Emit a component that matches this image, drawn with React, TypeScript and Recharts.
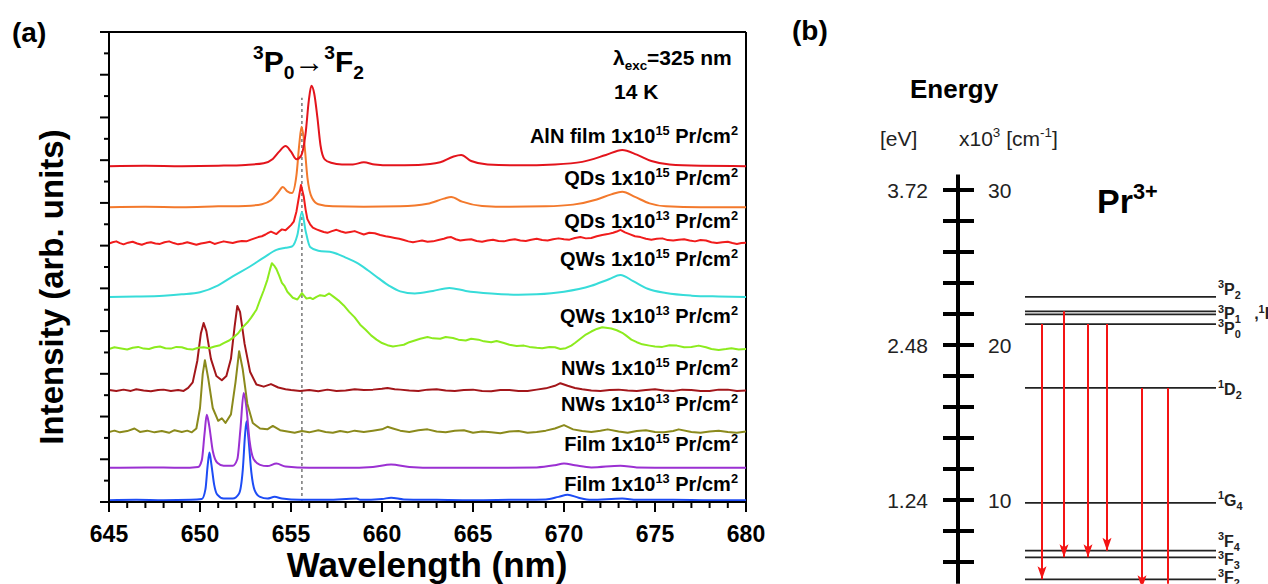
import { LineChart, Line, XAxis, YAxis, ReferenceLine } from "recharts";

const FONT = '"Liberation Sans", Arial, Helvetica, sans-serif';

// ---- panel (a): offset PL spectra, [wavelength nm, intensity arb. units] ----
const filmLow: [number, number][] = [
  [645, 0.04], [646.5, 0.05], [648, 0.04], [649.5, 0.05], [650.1, 0.07], [650.3, 0.3], [650.42, 0.85],
  [650.52, 1.16], [650.62, 0.9], [650.78, 0.4], [650.95, 0.17], [651.3, 0.08], [651.8, 0.08], [652.15, 0.2],
  [652.35, 0.75], [652.48, 1.6], [652.56, 1.89], [652.66, 1.5], [652.82, 0.7], [653.0, 0.28], [653.3, 0.12],
  [653.7, 0.08], [654.1, 0.12], [654.5, 0.08], [655.5, 0.05], [657, 0.05], [658.6, 0.08], [658.8, 0.05],
  [660, 0.07], [660.5, 0.1], [661.2, 0.06], [663, 0.05], [665, 0.04], [667, 0.05], [669, 0.06],
  [669.7, 0.12], [670.2, 0.17], [670.8, 0.1], [671.5, 0.05], [673.2, 0.08], [674, 0.05], [676, 0.05],
  [678, 0.04], [680, 0.04],
];
const filmHigh: [number, number][] = [
  [645, 0.8], [647, 0.81], [649, 0.8], [649.9, 0.82], [650.1, 0.98], [650.25, 1.6], [650.37, 2.04],
  [650.5, 1.8], [650.7, 1.2], [650.95, 0.92], [651.3, 0.85], [651.8, 0.85], [652.05, 1.0], [652.22, 1.7],
  [652.4, 2.55], [652.54, 2.25], [652.72, 1.45], [652.95, 1.0], [653.3, 0.87], [653.7, 0.84], [654.2, 0.9],
  [654.7, 0.83], [656, 0.8], [658, 0.8], [659.5, 0.82], [660.5, 0.88], [661.5, 0.82], [663, 0.8],
  [666, 0.8], [668.5, 0.81], [669.5, 0.86], [670, 0.9], [670.6, 0.86], [671.5, 0.81], [673.1, 0.85],
  [674, 0.81], [676, 0.8], [678, 0.8], [680, 0.8],
];
const nwLow: [number, number][] = [
  [645, 1.64], [645.3, 1.67], [645.6, 1.63], [646, 1.66], [646.4, 1.72], [646.7, 1.64], [647.1, 1.67],
  [647.5, 1.63], [647.9, 1.66], [648.3, 1.62], [648.6, 1.68], [649, 1.64], [649.3, 1.67], [649.55, 1.63],
  [649.8, 1.72], [650.0, 2.2], [650.15, 3.0], [650.27, 3.32], [650.45, 2.9], [650.7, 2.2], [651.0, 1.9],
  [651.2, 1.96], [651.4, 1.85], [651.7, 2.05], [651.95, 2.8], [652.15, 3.53], [652.35, 3.1], [652.6, 2.3],
  [652.9, 1.85], [653.3, 1.72], [653.7, 1.7], [654.0, 1.78], [654.4, 1.68], [654.8, 1.65], [655.2, 1.62],
  [655.6, 1.66], [656, 1.63], [656.5, 1.68], [656.9, 1.64], [657.3, 1.62], [657.7, 1.66], [658.1, 1.63],
  [658.5, 1.67], [659, 1.64], [659.5, 1.67], [660, 1.7], [660.3, 1.76], [660.6, 1.72], [661, 1.67],
  [661.5, 1.64], [662, 1.68], [662.5, 1.7], [663, 1.65], [663.5, 1.63], [664, 1.67], [664.5, 1.68],
  [665, 1.62], [665.5, 1.65], [666, 1.63], [666.5, 1.61], [667, 1.65], [667.5, 1.66], [668, 1.62],
  [668.5, 1.64], [669, 1.67], [669.5, 1.72], [670, 1.8], [670.5, 1.7], [671, 1.66], [671.5, 1.64],
  [672, 1.67], [672.4, 1.7], [673, 1.65], [673.5, 1.62], [674, 1.66], [674.5, 1.68], [675, 1.64],
  [675.5, 1.63], [676, 1.66], [676.3, 1.7], [677, 1.64], [677.5, 1.62], [678, 1.65], [678.5, 1.67],
  [679, 1.64], [679.5, 1.62], [680, 1.65],
];
const nwHigh: [number, number][] = [
  [645, 2.62], [645.4, 2.6], [645.8, 2.63], [646.2, 2.6], [646.5, 2.64], [646.9, 2.61], [647.3, 2.59],
  [647.7, 2.62], [648, 2.63], [648.4, 2.6], [648.8, 2.62], [649.1, 2.6], [649.35, 2.67], [649.6, 2.8],
  [649.85, 3.3], [650.05, 3.95], [650.2, 4.19], [650.35, 4.0], [650.6, 3.35], [650.9, 2.95], [651.2, 2.85],
  [651.45, 2.95], [651.7, 3.35], [651.9, 4.1], [652.05, 4.59], [652.2, 4.45], [652.45, 3.7], [652.75, 3.05],
  [653.1, 2.75], [653.5, 2.7], [653.9, 2.76], [654.3, 2.68], [654.7, 2.64], [655, 2.62], [655.5, 2.6],
  [656, 2.62], [656.5, 2.59], [657, 2.63], [657.5, 2.6], [658, 2.61], [658.5, 2.64], [659, 2.62],
  [659.5, 2.63], [660, 2.65], [660.3, 2.67], [660.7, 2.64], [661, 2.63], [661.5, 2.61], [662, 2.6],
  [662.5, 2.63], [663, 2.64], [663.5, 2.61], [664, 2.6], [664.5, 2.62], [665, 2.63], [665.5, 2.6],
  [666, 2.59], [666.5, 2.62], [667, 2.62], [667.5, 2.6], [668, 2.6], [668.5, 2.63], [669, 2.66],
  [669.5, 2.72], [669.8, 2.78], [670.2, 2.72], [670.6, 2.67], [671, 2.64], [671.5, 2.61], [672, 2.6],
  [672.5, 2.62], [673, 2.63], [673.5, 2.61], [674, 2.6], [674.5, 2.62], [675, 2.64], [675.5, 2.61],
  [676, 2.6], [676.5, 2.63], [677, 2.62], [677.5, 2.6], [678, 2.6], [678.5, 2.63], [679, 2.63],
  [679.5, 2.6], [680, 2.61],
];
const qwLow: [number, number][] = [
  [645, 3.58], [645.3, 3.62], [645.6, 3.6], [646, 3.57], [646.3, 3.61], [646.6, 3.63], [646.9, 3.59],
  [647.2, 3.58], [647.5, 3.62], [647.8, 3.64], [648.1, 3.6], [648.4, 3.59], [648.7, 3.63], [649, 3.62],
  [649.3, 3.58], [649.6, 3.57], [649.9, 3.61], [650.2, 3.62], [650.5, 3.6], [650.8, 3.64], [651.1, 3.67],
  [651.3, 3.72], [651.6, 3.78], [651.8, 3.84], [652.1, 3.95], [652.3, 4.07], [652.6, 4.2], [652.8, 4.31],
  [653.1, 4.5], [653.3, 4.73], [653.5, 4.95], [653.7, 5.2], [653.85, 5.45], [653.95, 5.59], [654.1, 5.52],
  [654.2, 5.45], [654.35, 5.3], [654.5, 5.13], [654.65, 5.05], [654.8, 4.92], [654.95, 4.85], [655.1, 4.78],
  [655.35, 4.74], [655.6, 4.89], [655.85, 4.76], [656.05, 4.78], [656.2, 4.75], [656.4, 4.8], [656.6, 4.84],
  [656.85, 4.82], [657.1, 4.88], [657.35, 4.8], [657.6, 4.72], [657.9, 4.6], [658.2, 4.45], [658.5, 4.32],
  [658.8, 4.15], [659.1, 4.03], [659.4, 3.9], [659.7, 3.8], [660, 3.72], [660.3, 3.67], [660.6, 3.64],
  [660.9, 3.66], [661.2, 3.68], [661.5, 3.74], [661.8, 3.78], [662.1, 3.82], [662.5, 3.86], [662.8, 3.83],
  [663.2, 3.82], [663.5, 3.86], [663.9, 3.84], [664.2, 3.8], [664.6, 3.78], [664.9, 3.82], [665.3, 3.8],
  [665.6, 3.76], [666, 3.74], [666.3, 3.77], [666.7, 3.72], [667, 3.68], [667.4, 3.65], [667.8, 3.66],
  [668.1, 3.63], [668.5, 3.61], [668.8, 3.6], [669.2, 3.63], [669.5, 3.62], [669.8, 3.58], [670.1, 3.6],
  [670.4, 3.66], [670.6, 3.72], [670.9, 3.82], [671.2, 3.92], [671.5, 3.99], [671.8, 4.05], [672.1, 4.09],
  [672.3, 4.08], [672.6, 4.06], [672.9, 4.02], [673.2, 3.96], [673.4, 3.9], [673.7, 3.8], [674, 3.74],
  [674.3, 3.69], [674.7, 3.66], [675, 3.64], [675.4, 3.63], [675.8, 3.67], [676.2, 3.66], [676.6, 3.62],
  [677, 3.63], [677.4, 3.66], [677.8, 3.62], [678.1, 3.58], [678.5, 3.56], [678.9, 3.58], [679.2, 3.6],
  [679.6, 3.57], [680, 3.58],
];
const qwHigh: [number, number][] = [
  [645, 4.8], [646.5, 4.81], [648, 4.83], [649, 4.86], [650, 4.91], [651, 5.07], [651.8, 5.28], [652.7, 5.5],
  [653.5, 5.72], [654.2, 5.9], [654.7, 5.95], [655.05, 5.98], [655.35, 6.25], [655.6, 6.79], [655.8, 6.35],
  [656.05, 5.97], [656.5, 5.88], [657.3, 5.84], [658, 5.72], [658.6, 5.6], [659.2, 5.43], [659.8, 5.24],
  [660.4, 5.06], [661, 4.93], [661.8, 4.88], [662.8, 4.94], [663.7, 5.01], [664.6, 4.94], [666, 4.88],
  [667.5, 4.85], [668.5, 4.86], [670, 4.92], [671.5, 5.06], [672.5, 5.22], [673.1, 5.31], [673.8, 5.17],
  [674.6, 4.99], [675.6, 4.89], [677, 4.83], [678.5, 4.81], [680, 4.8],
];
const qdLow: [number, number][] = [
  [645, 6.05], [645.2, 6.08], [645.4, 6.1], [645.6, 6.06], [645.8, 6.03], [646.05, 6.07], [646.3, 6.09],
  [646.55, 6.05], [646.8, 6.02], [647.05, 6.06], [647.3, 6.08], [647.55, 6.05], [647.8, 6.04], [648.05, 6.08],
  [648.3, 6.1], [648.55, 6.06], [648.8, 6.03], [649.05, 6.05], [649.3, 6.08], [649.55, 6.05], [649.8, 6.02],
  [650.05, 6.05], [650.3, 6.07], [650.55, 6.09], [650.8, 6.04], [651.05, 6.07], [651.3, 6.1], [651.55, 6.08],
  [651.8, 6.06], [652.05, 6.09], [652.3, 6.11], [652.55, 6.1], [652.8, 6.14], [653.0, 6.17], [653.2, 6.2],
  [653.4, 6.22], [653.6, 6.26], [653.75, 6.3], [653.9, 6.33], [654.05, 6.3], [654.2, 6.27], [654.35, 6.33],
  [654.5, 6.38], [654.7, 6.36], [654.85, 6.42], [655.0, 6.48], [655.15, 6.56], [655.3, 6.8], [655.4, 7.05],
  [655.55, 7.42], [655.7, 7.15], [655.8, 6.85], [655.9, 6.62], [656.05, 6.5], [656.2, 6.42], [656.4, 6.38],
  [656.6, 6.35], [656.8, 6.32], [657, 6.3], [657.25, 6.34], [657.5, 6.37], [657.75, 6.33], [658, 6.3],
  [658.25, 6.32], [658.5, 6.34], [658.75, 6.3], [659, 6.26], [659.3, 6.3], [659.6, 6.29], [659.9, 6.25],
  [660.2, 6.22], [660.45, 6.2], [660.7, 6.18], [660.95, 6.16], [661.2, 6.13], [661.45, 6.1], [661.7, 6.08],
  [661.95, 6.1], [662.2, 6.12], [662.5, 6.09], [662.8, 6.1], [663.1, 6.13], [663.4, 6.16], [663.6, 6.19],
  [663.8, 6.2], [664.05, 6.15], [664.3, 6.12], [664.6, 6.14], [664.9, 6.15], [665.2, 6.11], [665.5, 6.09],
  [665.8, 6.12], [666.1, 6.14], [666.4, 6.11], [666.7, 6.1], [667, 6.13], [667.3, 6.15], [667.6, 6.12],
  [667.9, 6.11], [668.2, 6.14], [668.5, 6.16], [668.8, 6.13], [669.1, 6.12], [669.4, 6.15], [669.7, 6.17],
  [670, 6.15], [670.3, 6.14], [670.6, 6.18], [670.9, 6.2], [671.2, 6.17], [671.5, 6.18], [671.8, 6.22],
  [672.1, 6.25], [672.4, 6.27], [672.7, 6.3], [672.9, 6.33], [673.1, 6.37], [673.35, 6.31], [673.6, 6.27],
  [673.9, 6.22], [674.2, 6.2], [674.5, 6.16], [674.8, 6.14], [675.1, 6.16], [675.4, 6.17], [675.7, 6.13],
  [676, 6.12], [676.3, 6.14], [676.6, 6.15], [676.9, 6.12], [677.2, 6.1], [677.5, 6.13], [677.8, 6.12],
  [678.1, 6.08], [678.4, 6.06], [678.7, 6.08], [679, 6.09], [679.25, 6.06], [679.5, 6.04], [679.75, 6.06],
  [680, 6.07],
];
const qdHigh: [number, number][] = [
  [645, 6.9], [647, 6.91], [649, 6.9], [651, 6.92], [652.5, 6.93], [653.4, 6.97], [653.9, 7.06],
  [654.3, 7.25], [654.55, 7.37], [654.8, 7.27], [655.05, 7.23], [655.3, 7.65], [655.45, 8.35],
  [655.58, 8.78], [655.72, 8.45], [655.9, 7.6], [656.15, 7.12], [656.5, 6.97], [657.3, 6.92], [659, 6.91],
  [661, 6.92], [662.5, 6.98], [663.4, 7.1], [663.8, 7.14], [664.4, 7.03], [665.5, 6.93], [667, 6.91],
  [669, 6.92], [670.5, 6.96], [671.8, 7.08], [672.6, 7.2], [673.2, 7.26], [673.9, 7.14], [674.7, 6.99],
  [675.6, 6.92], [677.5, 6.9], [680, 6.9],
];
const alnFilm: [number, number][] = [
  [645, 7.86], [647, 7.87], [649, 7.86], [651, 7.87], [652.5, 7.89], [653.5, 7.93], [654.0, 8.03],
  [654.35, 8.2], [654.7, 8.33], [655.0, 8.2], [655.3, 8.02], [655.55, 8.1], [655.8, 8.62], [655.98, 9.4],
  [656.12, 9.74], [656.28, 9.55], [656.45, 9.0], [656.62, 8.35], [656.85, 8.02], [657.2, 7.94],
  [657.8, 7.9], [658.4, 7.9], [659, 7.95], [659.6, 7.9], [660.5, 7.88], [662, 7.89], [663.2, 7.95],
  [663.9, 8.08], [664.35, 8.12], [664.9, 7.98], [665.8, 7.9], [667.5, 7.88], [669.5, 7.9], [671, 7.96],
  [672.3, 8.12], [673.2, 8.24], [674, 8.13], [674.8, 7.98], [675.8, 7.9], [677.5, 7.87], [680, 7.86],
];

const seriesData = [filmLow, filmHigh, nwLow, nwHigh, qwLow, qwHigh, qdLow, qdHigh, alnFilm];
const seriesColors = ["#1d4cf5", "#9b30d2", "#8b8a1c", "#a3161a", "#8ceb1e", "#37dcd9", "#f01c1c", "#f3792c", "#e3141c"];
// noisy traces are drawn point to point, smooth ones with a monotone curve
const seriesCurve = ["monotone", "monotone", "linear", "linear", "linear", "monotone", "linear", "monotone", "monotone"] as const;
const seriesLabels = [
  "Film 1x10^{13} Pr/cm^{2}",
  "Film 1x10^{15} Pr/cm^{2}",
  "NWs 1x10^{13} Pr/cm^{2}",
  "NWs 1x10^{15} Pr/cm^{2}",
  "QWs 1x10^{13} Pr/cm^{2}",
  "QWs 1x10^{15} Pr/cm^{2}",
  "QDs 1x10^{13} Pr/cm^{2}",
  "QDs 1x10^{15} Pr/cm^{2}",
  "AlN film 1x10^{15} Pr/cm^{2}",
];
const labelBaselines = [491, 451, 411, 375, 323, 266, 228, 185, 143];

const xTicks = [645, 646, 647, 648, 649, 650, 651, 652, 653, 654, 655, 656, 657, 658, 659, 660, 661, 662,
  663, 664, 665, 666, 667, 668, 669, 670, 671, 672, 673, 674, 675, 676, 677, 678, 679, 680];
const yTicks = [0, 0.5, 1, 1.5, 2, 2.5, 3, 3.5, 4, 4.5, 5, 5.5, 6, 6.5, 7, 7.5, 8, 8.5, 9, 9.5, 10, 10.5, 11];
const transitionLine = 655.6;

// ---- panel (b): Pr3+ levels, energy in 10^3 cm^-1 ----
const levelTerms = ["^{3}P_{2}", "^{3}P_{1}\u00a0\u00a0\u00a0,^{1}I_{6}", "", "^{3}P_{0}", "^{1}D_{2}", "^{1}G_{4}", "^{3}F_{4}", "^{3}F_{3}", "^{3}F_{2}"];
const levelEnergies = [23.1, 22.17, 21.98, 21.35, 17.23, 9.82, 6.73, 6.3, 4.88];
const levelLabelDy = [-2, 8, 0, 10, 7, 3, -4, 8, 4];
const transitionFrom = [21.35, 22.17, 21.35, 21.35, 17.23, 17.23];
const transitionTo = [4.88, 6.3, 6.3, 6.73, 4.3, 2.2];
const energyTicks = [6, 8, 10, 12, 14, 16, 18, 20, 22, 24, 26, 28, 30];
const eVLabels: Record<number, string> = { 30: "3.72", 20: "2.48", 10: "1.24" };

const LEVEL_X = [67, 258];
const ARROW_X = [84, 106, 130, 149, 184, 210];

type Part = { t: string; s?: "sup" | "sub" };
function parse(s: string): Part[] {
  const out: Part[] = [];
  const re = /([\^_])\{([^}]*)\}/g;
  let last = 0;
  let m: RegExpExecArray | null;
  while ((m = re.exec(s))) {
    if (m.index > last) out.push({ t: s.slice(last, m.index) });
    out.push({ t: m[2], s: m[1] === "^" ? "sup" : "sub" });
    last = re.lastIndex;
  }
  if (last < s.length) out.push({ t: s.slice(last) });
  return out;
}
function rich(s: string, fs: number, small = 0.64) {
  let cur = 0;
  return parse(s).map((p, i) => {
    const target = p.s === "sup" ? -0.42 * fs : p.s === "sub" ? 0.24 * fs : 0;
    const dy = target - cur;
    cur = target;
    return (
      <tspan key={i} dy={dy} fontSize={p.s ? fs * small : fs}>
        {p.t}
      </tspan>
    );
  });
}

const renderXTick = (p: any) => {
  const v = p.payload.value;
  const major = v % 5 === 0;
  return (
    <g key={`xt-${v}`}>
      <line x1={p.x} x2={p.x} y1={p.y} y2={p.y + (major ? 10 : 6)} stroke="#000" strokeWidth={2} />
      {major && (
        <text x={p.x} y={p.y + 40} textAnchor="middle" fontSize={23} fontWeight={700} fontFamily={FONT} fill="#000">
          {v}
        </text>
      )}
    </g>
  );
};

const renderYTick = (p: any) => {
  const v = p.payload.value;
  const major = Number.isInteger(v);
  return <line key={`yt-${v}`} x1={p.x - (major ? 9 : 5)} x2={p.x} y1={p.y} y2={p.y} stroke="#000" strokeWidth={2} />;
};

const renderEnergyTick = (p: any) => {
  const v = p.payload.value;
  const ev = eVLabels[v];
  return (
    <g key={`et-${v}`}>
      <line x1={p.x - 15} x2={p.x + 16} y1={p.y} y2={p.y} stroke="#000" strokeWidth={4} />
      {ev && (
        <text x={p.x - 30} y={p.y + 8} textAnchor="end" fontSize={21} fontFamily={FONT} fill="#222">
          {ev}
        </text>
      )}
      {ev && (
        <text x={p.x + 30} y={p.y + 8} textAnchor="start" fontSize={21} fontFamily={FONT} fill="#222">
          {v}
        </text>
      )}
    </g>
  );
};

function SpectraPanel() {
  return (
    <LineChart width={790} height={584} margin={{ top: 32, right: 44, bottom: 0, left: 0 }}>
      <XAxis
        type="number"
        dataKey="x"
        domain={[645, 680]}
        ticks={xTicks}
        interval={0}
        tick={renderXTick}
        tickLine={false}
        tickSize={0}
        tickMargin={0}
        height={82}
        axisLine={{ stroke: "#000", strokeWidth: 2 }}
        allowDataOverflow
      />
      <YAxis
        type="number"
        domain={[0, 11]}
        ticks={yTicks}
        interval={0}
        tick={renderYTick}
        tickLine={false}
        tickSize={0}
        tickMargin={0}
        width={109}
        axisLine={{ stroke: "#000", strokeWidth: 2 }}
        allowDataOverflow
      />
      <ReferenceLine y={11} stroke="#000" strokeWidth={2} />
      <ReferenceLine x={680} stroke="#000" strokeWidth={2} />
      <ReferenceLine
        segment={[{ x: transitionLine, y: 0 }, { x: transitionLine, y: 9.46 }]}
        stroke="#555"
        strokeWidth={1.2}
        strokeDasharray="3 3"
      />
      {seriesData.map((pts, i) => (
        <Line
          key={seriesLabels[i]}
          data={pts.map(([x, y]) => ({ x, y }))}
          dataKey="y"
          type={seriesCurve[i]}
          stroke={seriesColors[i]}
          strokeWidth={2}
          strokeLinejoin="round"
          dot={false}
          isAnimationActive={false}
        />
      ))}
    </LineChart>
  );
}

function LevelsPanel() {
  return (
    <LineChart width={478} height={584} margin={{ top: 174.5, right: 0, bottom: 0.3, left: 0 }}>
      <XAxis type="number" dataKey="x" domain={[0, 310]} hide allowDataOverflow />
      <YAxis
        type="number"
        domain={[4.6, 31]}
        ticks={energyTicks}
        interval={0}
        tick={renderEnergyTick}
        tickLine={false}
        tickSize={0}
        tickMargin={0}
        width={168}
        axisLine={{ stroke: "#000", strokeWidth: 4 }}
        allowDataOverflow
      />
      {levelEnergies.map((e, i) => (
        <Line
          key={`lvl-${i}`}
          data={[{ x: LEVEL_X[0], e }, { x: LEVEL_X[1], e }]}
          dataKey="e"
          type="linear"
          stroke="#222"
          strokeWidth={1.8}
          isAnimationActive={false}
          dot={(p: any) =>
            p.index === 1 && levelTerms[i] ? (
              <text key={`ll-${i}`} x={p.cx + 2} y={p.cy + levelLabelDy[i]} fontSize={16} fontWeight={700} fontFamily={FONT} fill="#222">
                {rich(levelTerms[i], 16, 0.68)}
              </text>
            ) : (
              <g key={`ld-${i}-${p.index}`} />
            )
          }
        />
      ))}
      {transitionFrom.map((from, i) => (
        <Line
          key={`tr-${i}`}
          data={[{ x: ARROW_X[i], e: from }, { x: ARROW_X[i], e: transitionTo[i] }]}
          dataKey="e"
          type="linear"
          stroke="#f41414"
          strokeWidth={2}
          isAnimationActive={false}
          dot={(p: any) =>
            p.index === 1 ? (
              <polygon
                key={`ah-${i}`}
                points={`${p.cx},${p.cy} ${p.cx - 4.5},${p.cy - 13} ${p.cx},${p.cy - 10} ${p.cx + 4.5},${p.cy - 13}`}
                fill="#f41414"
              />
            ) : (
              <g key={`ad-${i}`} />
            )
          }
        />
      ))}
    </LineChart>
  );
}

export default function App() {
  const bold = { fontFamily: FONT, fontWeight: 700, fill: "#000" } as const;
  return (
    <div style={{ position: "absolute", left: 0, top: 0, width: 1268, height: 584, background: "#fff", overflow: "hidden" }}>
      <div style={{ position: "absolute", left: 0, top: 0 }}>
        <SpectraPanel />
      </div>
      <div style={{ position: "absolute", left: 790, top: 0 }}>
        <LevelsPanel />
      </div>
      <svg width={1268} height={584} style={{ position: "absolute", left: 0, top: 0, pointerEvents: "none" }}>
        <text x={12} y={42} fontSize={28} {...bold}>(a)</text>
        <text x={792} y={40} fontSize={28} {...bold}>(b)</text>
        <text x={253} y={72} fontSize={30} {...bold}>{rich("^{3}P_{0}\u2192^{3}F_{2}", 30)}</text>
        <text x={613} y={65} fontSize={21} {...bold}>{rich("\u03bb_{exc}=325 nm", 21)}</text>
        <text x={614} y={99} fontSize={21} {...bold}>14 K</text>
        {seriesLabels.map((s, i) => (
          <text key={s} x={738} y={labelBaselines[i]} textAnchor="end" fontSize={20} {...bold}>
            {rich(s, 20)}
          </text>
        ))}
        <text x={427} y={577} textAnchor="middle" fontSize={35} {...bold}>Wavelength (nm)</text>
        <text transform="translate(63,287) rotate(-90)" textAnchor="middle" fontSize={33} {...bold}>
          Intensity (arb. units)
        </text>
        <text x={910} y={98} fontSize={26} {...bold}>Energy</text>
        <text x={880} y={146} fontSize={21} fontFamily={FONT} fill="#222">[eV]</text>
        <text x={959} y={146} fontSize={21} fontFamily={FONT} fill="#222">{rich("x10^{3} [cm^{-1}]", 21)}</text>
        <text x={1097} y={213} fontSize={34} {...bold}>{rich("Pr^{3+}", 34)}</text>
      </svg>
    </div>
  );
}
